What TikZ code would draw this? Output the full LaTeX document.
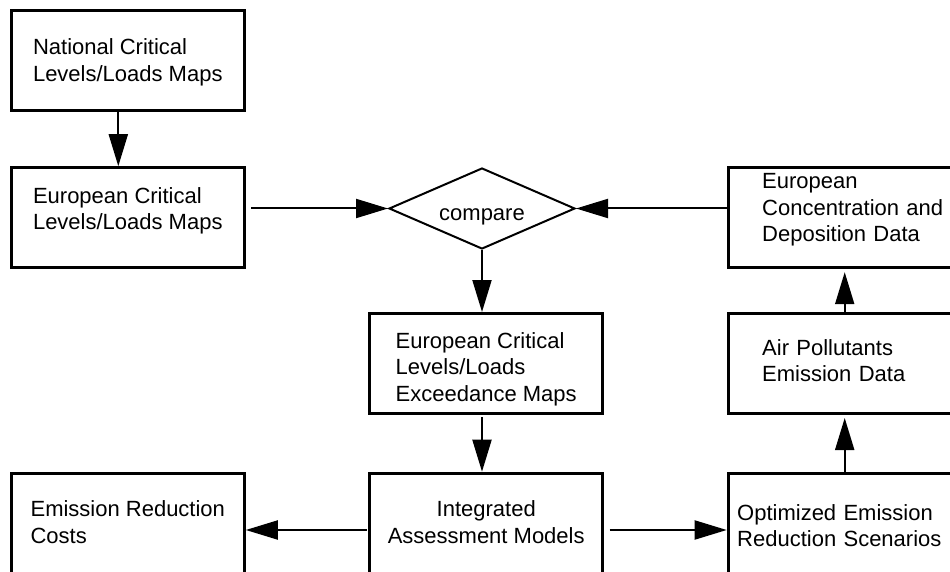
\documentclass[tikz,border=0pt]{standalone}
\usepackage{fontspec}
\setmainfont{Liberation Sans}
\usepackage{tikz}
\usetikzlibrary{arrows.meta}
\usetikzlibrary{shapes}
\usetikzlibrary{calc}
\tikzstyle{block}=[draw, rectangle, line width=3pt, minimum width=233pt, minimum height=100pt, inner sep=0pt, align=left, font=\fontsize{22}{26.5}\selectfont]
\tikzstyle{decision}=[draw, diamond, line width=2pt, aspect=2.3, minimum width=186pt, minimum height=81pt, inner sep=0pt, font=\fontsize{22}{26.5}\selectfont]
\tikzstyle{flow}=[line width=2pt, -{Triangle[length=32pt,width=19pt]}]

\begin{document}
\begin{tikzpicture}[x=1pt,y=-1pt]
	\useasboundingbox (0,0) rectangle (950,572);
	\clip (0,0) rectangle (950,572);
	\node[block, text height=41.4pt, text depth=0pt] (nat) at (127.8,60.8) {National Critical\\Levels/Loads Maps};
	\node[block, text height=24.2pt, text depth=0pt] (eur) at (127.8,217.7) {European Critical\\Levels/Loads Maps};
	\node[decision, text height=23pt, text depth=0pt] (cmp) at (482,208.5) {compare};
	\node[block, text height=75.6pt, text depth=0pt] (exc) at (486.2,363.5) {European Critical\\Levels/Loads\\Exceedance Maps};
	\node[block, text height=0pt, text depth=57.4pt, inner xsep=34pt, text width=190pt] (conc) at (857.2,217.7) {European\\Concentration and\\Deposition Data};
	\node[block, text height=0pt, text depth=17pt, inner xsep=34pt, text width=190pt] (air) at (857.2,363.5) {Air Pollutants\\Emission Data};
	\node[block, minimum height=104pt, text height=35.6pt, text depth=0pt] (cost) at (127.8,525.2) {Emission Reduction\\Costs};
	\node[block, minimum height=104pt, text height=35.6pt, text depth=0pt, align=center] (iam) at (486.2,525.2) {Integrated\\Assessment Models};
	\node[block, minimum height=104pt, text height=0pt, text depth=10.4pt, inner xsep=9pt, text width=215pt] (opt) at (844.7,525.2) {Optimized Emission\\Reduction Scenarios};
	\draw[flow] ($(nat.south)+(-9.5,0)$) -- ($(eur.north)+(-9.5,0)$);
	\draw[flow, shorten <=5.5pt] (eur.east |- cmp.west) -- (cmp.west);
	\draw[flow] (conc.west |- cmp.east) -- (cmp.east);
	\draw[flow] (cmp.south) -- (cmp.south |- exc.north);
	\draw[flow, shorten <=2pt] (exc.south -| cmp.south) -- (cmp.south |- iam.north);
	\draw[flow, shorten <=1.5pt] ($(iam.west)+(0,4.8)$) -- ($(cost.east)+(0,4.8)$);
	\draw[flow, shorten <=5.5pt] ($(iam.east)+(0,4.8)$) -- ($(opt.west)+(0,4.8)$);
	\draw[flow, shorten >=3pt] (opt.north) -- (opt.north |- air.south);
	\draw[flow, shorten >=3pt] (air.north -| opt.north) -- (opt.north |- conc.south);
\end{tikzpicture}
\end{document}
